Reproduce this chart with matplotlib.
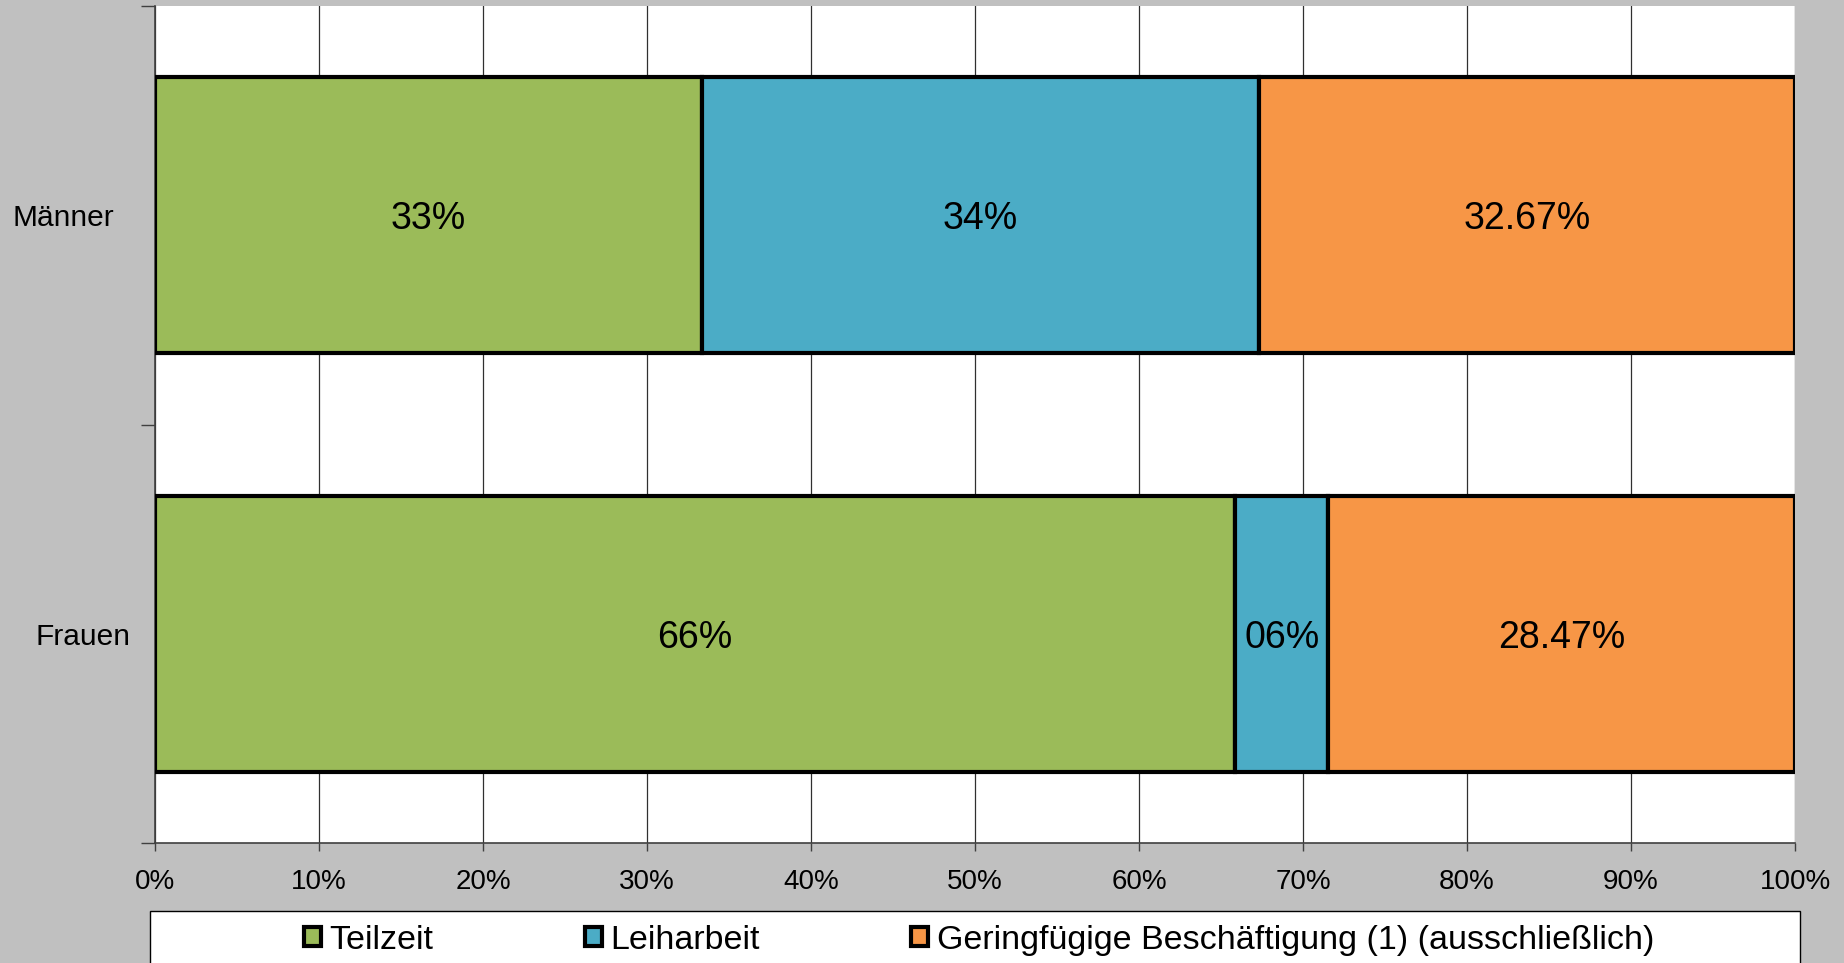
import matplotlib
matplotlib.use("Agg")
import matplotlib.pyplot as plt
import matplotlib.patches as mpatches
import numpy as np

plt.rcParams["font.family"] = ["Liberation Sans", "DejaVu Sans"]

# data (share in %), bottom row first
groups = ["Frauen", "Männer"]
series = ["Teilzeit", "Leiharbeit", "Geringfügige Beschäftigung (1) (ausschließlich)"]
teilzeit = [65.87, 33.33]
leiharbeit = [5.66, 34.00]
geringfuegig = [28.47, 32.67]
labels_teilzeit = ["66%", "33%"]
labels_leiharbeit = ["06%", "34%"]
labels_geringfuegig = ["28.47%", "32.67%"]

colors = ["#9BBB59", "#4BACC6", "#F79646"]
bg = "#C0C0C0"

fig = plt.figure(figsize=(18.44, 9.63), dpi=100, facecolor=bg)
ax = fig.add_axes([155 / 1844, 1 - 843 / 963, 1640 / 1844, 837 / 963])
ax.set_facecolor("white")

y = np.arange(len(groups))
left = np.zeros(len(groups))
values = [teilzeit, leiharbeit, geringfuegig]
texts = [labels_teilzeit, labels_leiharbeit, labels_geringfuegig]
handles = []
for vals, labs, col, name in zip(values, texts, colors, series):
    vals = np.array(vals)
    bars = ax.barh(y, vals, left=left, height=0.66, color=col,
                   edgecolor="black", linewidth=3, zorder=3, label=name)
    handles.append(bars)
    for yi, xi, w, lab in zip(y, left, vals, labs):
        kw = {}
        if w < 10:
            kw["bbox"] = dict(facecolor=col, edgecolor="none", pad=2)
        ax.text(xi + w / 2, yi, lab, ha="center", va="center_baseline",
                fontsize=27, color="black", zorder=5, **kw)
    left = left + vals

ax.set_xlim(0, 100)
ax.set_ylim(-0.5, len(groups) - 0.5)
ax.set_xticks(np.arange(0, 101, 10))
ax.set_xticklabels([f"{v}%" for v in range(0, 101, 10)], fontsize=20)
ax.tick_params(axis="x", direction="out", length=6, width=1, color="#404040", pad=12.5)

# ticks at category boundaries, labels at centres
ax.set_yticks(np.arange(-0.5, len(groups), 1.0))
ax.set_yticklabels([])
ax.tick_params(axis="y", which="major", direction="out", length=10, width=1, color="#404040")
ax.set_yticks(y, minor=True)
ax.set_yticklabels(groups, minor=True, fontsize=21.5)
ax.tick_params(axis="y", which="minor", length=0, pad=29.5)
# "Frauen" sits a bit closer to the axis than "Männer" in the original
ax.get_yticklabels(minor=True)[0].set_x(16 / 1640)

ax.grid(axis="x", color="#303030", linewidth=0.9, zorder=0)
ax.set_axisbelow(True)
for s in ["top", "right"]:
    ax.spines[s].set_visible(False)
for s in ["left", "bottom"]:
    ax.spines[s].set_color("#404040")
    ax.spines[s].set_linewidth(1.2)

# legend box along the bottom
rect = mpatches.Rectangle((150 / 1844, -0.02), 1650 / 1844, 0.02 + 1 - 911 / 963,
                          transform=fig.transFigure, facecolor="white",
                          edgecolor="black", linewidth=1, zorder=1)
fig.patches.append(rect)
fig.legend(handles=handles, labels=series, loc="center",
           bbox_to_anchor=(0.531, 0.0235), ncol=3, frameon=False,
           fontsize=24.5, handlelength=0.5, handleheight=0.5,
           handletextpad=0.25, columnspacing=4.45, borderaxespad=0)

fig.savefig("out.png", dpi=100, facecolor=bg)
